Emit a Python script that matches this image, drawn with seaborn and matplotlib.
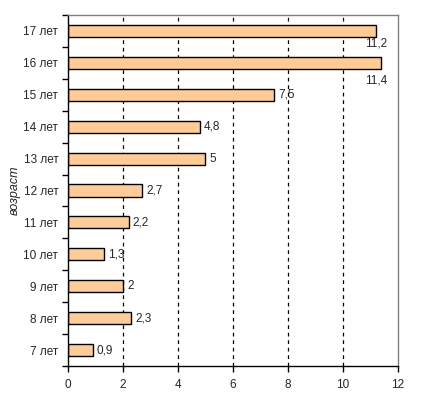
import matplotlib
matplotlib.use("Agg")
import matplotlib.pyplot as plt
import seaborn as sns
import pandas as pd
import numpy as np

# данные
ages = ["17 лет", "16 лет", "15 лет", "14 лет", "13 лет", "12 лет",
        "11 лет", "10 лет", "9 лет", "8 лет", "7 лет"]
values = [11.2, 11.4, 7.5, 4.8, 5, 2.7, 2.2, 1.3, 2, 2.3, 0.9]
x_ticks = [0, 2, 4, 6, 8, 10, 12]

df = pd.DataFrame({"age": ages, "value": values})

sns.set_style("white")
plt.rcParams["font.family"] = ["Liberation Sans", "DejaVu Sans"]

fig = plt.figure(figsize=(4.21, 3.98), dpi=100)
ax = fig.add_axes([68 / 421, 1 - 366 / 398, 330 / 421, 351 / 398])

sns.barplot(data=df, x="value", y="age", order=ages, orient="h",
            color="#FFCC99", edgecolor="black", linewidth=1.0,
            width=0.38, saturation=1, ax=ax)

ax.set_xlim(0, 12)
ax.set_ylim(len(ages) - 0.5, -0.5)
ax.set_xticks(x_ticks)
ax.set_xticklabels([str(t) for t in x_ticks], fontsize=8.5)
ax.set_yticks(range(len(ages)))
ax.set_yticklabels(ages, fontsize=8.5)
ax.set_yticks(np.arange(-0.5, len(ages), 1), minor=True)
ax.tick_params(axis="y", which="major", left=True, length=0, pad=7)
ax.tick_params(axis="y", which="minor", left=True, length=4, width=1,
               color="black", direction="out")
ax.tick_params(axis="x", which="major", bottom=True, length=4, width=1,
               color="black", direction="out", pad=5)

for t in x_ticks[1:-1]:
    ax.axvline(t, color="black", linestyle=(0, (3, 3)), linewidth=0.9, zorder=0)

ax.set_xlabel("")
ax.set_ylabel("возраст", fontsize=9, style="italic", labelpad=2)

for sp in ["left", "bottom"]:
    ax.spines[sp].set_color("black")
    ax.spines[sp].set_linewidth(1.0)
for sp in ["top", "right"]:
    ax.spines[sp].set_color("#808080")
    ax.spines[sp].set_linewidth(1.0)

# подписи значений
below = {0: 0.22, 1: 0.36}
for i, v in enumerate(values):
    txt = str(v).replace(".", ",")
    if i in below:
        ax.text(min(v, 11.2), i + below[i], txt, ha="center", va="top", fontsize=8.5)
    else:
        ax.text(v + 0.15, i, txt, ha="left", va="center", fontsize=8.5)

fig.savefig("out.png", dpi=100)
